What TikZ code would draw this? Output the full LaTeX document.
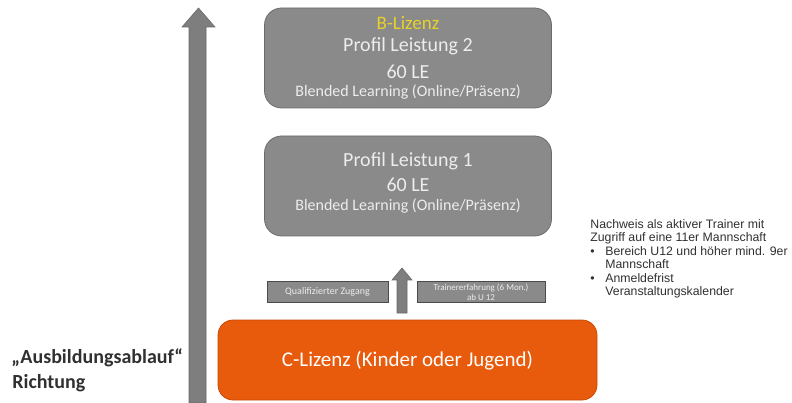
\documentclass[tikz,border=0pt]{standalone}
\usepackage{fontspec}
\setmainfont{Carlito}
\newfontfamily\arialfont{Liberation Sans}
\definecolor{boxgrau}{HTML}{8A8A8A}
\definecolor{boxrand}{HTML}{6A6A6A}
\definecolor{pfeilgrau}{HTML}{7E7E7E}
\definecolor{hellschrift}{HTML}{EDEDED}
\definecolor{gelbschrift}{HTML}{E8D22A}
\definecolor{orange}{HTML}{E95B0C}
\definecolor{orangerand}{HTML}{C44A08}
\definecolor{dunkelschrift}{HTML}{303030}

\tikzset{every picture/.style={line width=0.75pt}}
\tikzset{
  profilbox/.style={draw=boxrand,fill=boxgrau,rounded corners=17pt,minimum width=287pt,minimum height=100pt},
  kleinbox/.style={draw=boxrand!70!black,fill=boxgrau,minimum height=21pt,text=hellschrift,align=center,inner sep=1pt},
  lizenzbox/.style={draw=orangerand,fill=orange,rounded corners=15pt,minimum width=379pt,minimum height=80pt},
  boxtext/.style={text=hellschrift,inner sep=0pt},
  blockpfeil/.style={draw=boxrand,fill=pfeilgrau,line width=0.6pt},
}

\begin{document}
\begin{tikzpicture}[x=1pt,y=-1pt]
\useasboundingbox (0,0) rectangle (792,403);
% grosser Pfeil (Richtung)
\draw[blockpfeil] (189,403)--(189,27)--(182,27)--(198.5,8)--(215,27)--(206,27)--(206,403)--cycle;
% B-Lizenz / Profil Leistung 2
\node[profilbox] (profil2) at (408,58) {};
\node[boxtext,text=gelbschrift,font=\fontsize{19}{21}\selectfont] (blizenz) at (408,23) {B-Lizenz};
\node[boxtext,font=\fontsize{20}{22}\selectfont] (titel2) at (408,46) {Profil Leistung 2};
\node[boxtext,font=\fontsize{20}{22}\selectfont] (le2) at (408,72) {60 LE};
\node[boxtext,font=\fontsize{16}{18}\selectfont] (blended2) at (408,92) {Blended Learning (Online/Präsenz)};
% Profil Leistung 1
\node[profilbox] (profil1) at (408,186) {};
\node[boxtext,font=\fontsize{20}{22}\selectfont] (titel1) at (408,161) {Profil Leistung 1};
\node[boxtext,font=\fontsize{20}{22}\selectfont] (le1) at (408,185) {60 LE};
\node[boxtext,font=\fontsize{16}{18}\selectfont] (blended1) at (408,206) {Blended Learning (Online/Präsenz)};
% Zugang
\node[kleinbox,minimum width=121pt,font=\fontsize{10}{11}\selectfont] (zugang) at (327.5,292) {Qualifizierter Zugang};
\node[kleinbox,minimum width=128pt,font=\fontsize{9}{9.5}\selectfont] (erfahrung) at (481,292) {Trainererfahrung (6 Mon.)\\ab U 12};
\draw[blockpfeil] (397,313)--(397,280)--(392,280)--(402,268)--(412,280)--(407,280)--(407,313)--cycle;
% C-Lizenz
\node[lizenzbox] (clizenz) at (407.5,360) {};
\node[text=white,font=\fontsize{21}{23}\selectfont] (ctext) at (407.5,361) {C-Lizenz (Kinder oder Jugend)};
% Beschriftung links
\node[anchor=west,inner sep=0pt,text=dunkelschrift,font=\fontsize{20}{22}\selectfont\bfseries] (ablauf) at (11,358) {„Ausbildungsablauf“};
\node[anchor=west,inner sep=0pt,text=dunkelschrift,font=\fontsize{20}{22}\selectfont\bfseries] (richtung) at (12,383) {Richtung};
% Nachweis
\node[anchor=north west,inner sep=0pt,align=left,text=dunkelschrift,font=\arialfont\fontsize{12.3}{13.5}\selectfont] (nachweis) at (590,219)
  {Nachweis als aktiver Trainer mit\\
   Zugriff auf eine 11er Mannschaft\\
   \makebox[15pt][l]{•}Bereich U12 und höher mind. 9er\\
   \hspace*{15pt}Mannschaft\\
   \makebox[15pt][l]{•}Anmeldefrist\\
   \hspace*{15pt}Veranstaltungskalender};
\end{tikzpicture}
\end{document}
